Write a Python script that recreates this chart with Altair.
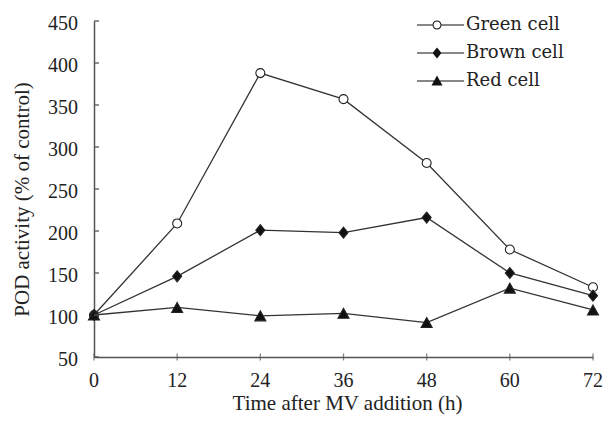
import altair as alt
import pandas as pd

hours = [0, 12, 24, 36, 48, 60, 72]
green = [100, 209, 388, 357, 281, 178, 133]
brown = [100, 146, 201, 198, 216, 150, 123]
red = [100, 109, 99, 102, 91, 132, 106]
series_names = ["Green cell", "Brown cell", "Red cell"]
y_ticks = [50, 100, 150, 200, 250, 300, 350, 400, 450]
x_ticks = [0, 12, 24, 36, 48, 60, 72]

rows = []
for name, vals in zip(series_names, [green, brown, red]):
    for h, v in zip(hours, vals):
        rows.append({"hour": h, "value": v, "series": name})
df = pd.DataFrame(rows)
ytick_df = pd.DataFrame({"tick": y_ticks})
xtick_df = pd.DataFrame({"tick": x_ticks})

FONT = "Liberation Serif"
W, H = 499, 336

circle_p = "M0.9,0A0.9,0.9 0 1,1 -0.9,0A0.9,0.9 0 1,1 0.9,0Z"
diamond_p = "M0,-1.1L0.9,0L0,1.1L-0.9,0Z"
tri_p = "M0,-1L1.1,1L-1.1,1Z"

leg_circle = ("M-4,-0.12H-0.9V0.12H-4Z M0.9,-0.12H5.4V0.12H0.9Z "
              "M0.9,0A0.9,0.9 0 1,1 -0.9,0A0.9,0.9 0 1,1 0.9,0Z "
              "M0.7,0A0.7,0.7 0 1,0 -0.7,0A0.7,0.7 0 1,0 0.7,0Z")
leg_diamond = "M-4,-0.12H5.4V0.12H-4Z M0,-1.1L0.9,0L0,1.1L-0.9,0Z"
leg_tri = "M-4,-0.12H5.4V0.12H-4Z M0,-1.1L1.1,0.9L-1.1,0.9Z"

xscale = alt.Scale(domain=[0, 72], nice=False, zero=False)
yscale = alt.Scale(domain=[50, 450], nice=False, zero=False)

x_enc = alt.X("hour:Q", scale=xscale,
              axis=alt.Axis(values=x_ticks, title="Time after MV addition (h)",
                            ticks=False, tickSize=0, labels=False,
                            titleY=52, titleBaseline="alphabetic", titleX=253,
                            grid=False))
y_enc = alt.Y("value:Q", scale=yscale,
              axis=alt.Axis(values=y_ticks, title="POD activity (% of control)",
                            ticks=False, tickSize=0, labels=False,
                            titleX=-66, titleY=178, titleAngle=270,
                            titleAlign="center", titleBaseline="alphabetic",
                            grid=False))

lines = alt.Chart(df).mark_line(color="#333333", strokeWidth=1.3).encode(
    x=x_enc, y=y_enc, detail="series:N"
)

points = alt.Chart(df).mark_point(filled=False, size=100, opacity=1,
                                  stroke="#222222", strokeWidth=1.1).encode(
    x="hour:Q", y="value:Q",
    shape=alt.Shape("series:N", scale=alt.Scale(domain=series_names,
                                                range=[circle_p, diamond_p, tri_p]),
                    legend=None),
    fill=alt.Fill("series:N", scale=alt.Scale(domain=series_names,
                                              range=["white", "#111111", "#111111"]),
                  legend=None),
)

legend_layer = alt.Chart(df).transform_filter("false").mark_point(
    filled=True, opacity=1, color="#111111", strokeWidth=0
).encode(
    shape=alt.Shape("series:N",
                    scale=alt.Scale(domain=series_names,
                                    range=[leg_circle, leg_diamond, leg_tri]),
                    legend=alt.Legend(title=None, orient="none",
                                      legendX=334, legendY=-5,
                                      symbolSize=100, symbolStrokeWidth=0,
                                      symbolFillColor="#111111",
                                      labelFont="DejaVu Serif",
                                      labelFontSize=18,
                                      labelColor="#222222", labelOffset=20,
                                      labelLimit=300,
                                      rowPadding=10, padding=0)),
)

ytick_layer = alt.Chart(ytick_df).mark_rule(color="#555555", strokeWidth=1.3).encode(
    y=alt.Y("tick:Q", scale=yscale), x=alt.value(0), x2=alt.value(5)
)
xtick_layer = alt.Chart(xtick_df).mark_tick(orient="vertical", color="#555555",
                                            size=7, thickness=1.3).encode(
    x=alt.X("tick:Q", scale=xscale), y=alt.value(H)
)
xlabel_layer = alt.Chart(xtick_df).mark_text(
    font=FONT, fontSize=20, color="#222222", baseline="alphabetic", align="center"
).encode(
    x=alt.X("tick:Q", scale=xscale), y=alt.value(H + 30), text="tick:Q"
)
ylabel_layer = alt.Chart(ytick_df).mark_text(
    font=FONT, fontSize=20, color="#222222", baseline="alphabetic", align="right",
    dy=9
).encode(
    y=alt.Y("tick:Q", scale=yscale), x=alt.value(-16), text="tick:Q"
)

chart = alt.layer(lines, points, legend_layer, ytick_layer, xtick_layer,
                  xlabel_layer, ylabel_layer).resolve_scale(
    shape="independent"
).properties(
    width=W, height=H,
    autosize=alt.AutoSizeParams(type="none"),
    padding={"left": 94, "top": 21, "right": 12, "bottom": 68},
    background="white",
).configure_view(stroke=None).configure_axis(
    titleFont=FONT, titleFontSize=21, titleColor="#222222", titleFontWeight="normal",
    domainColor="#555555", domainWidth=1.5,
)

chart.save("out.html", embed_options={"renderer": "svg", "actions": False})
